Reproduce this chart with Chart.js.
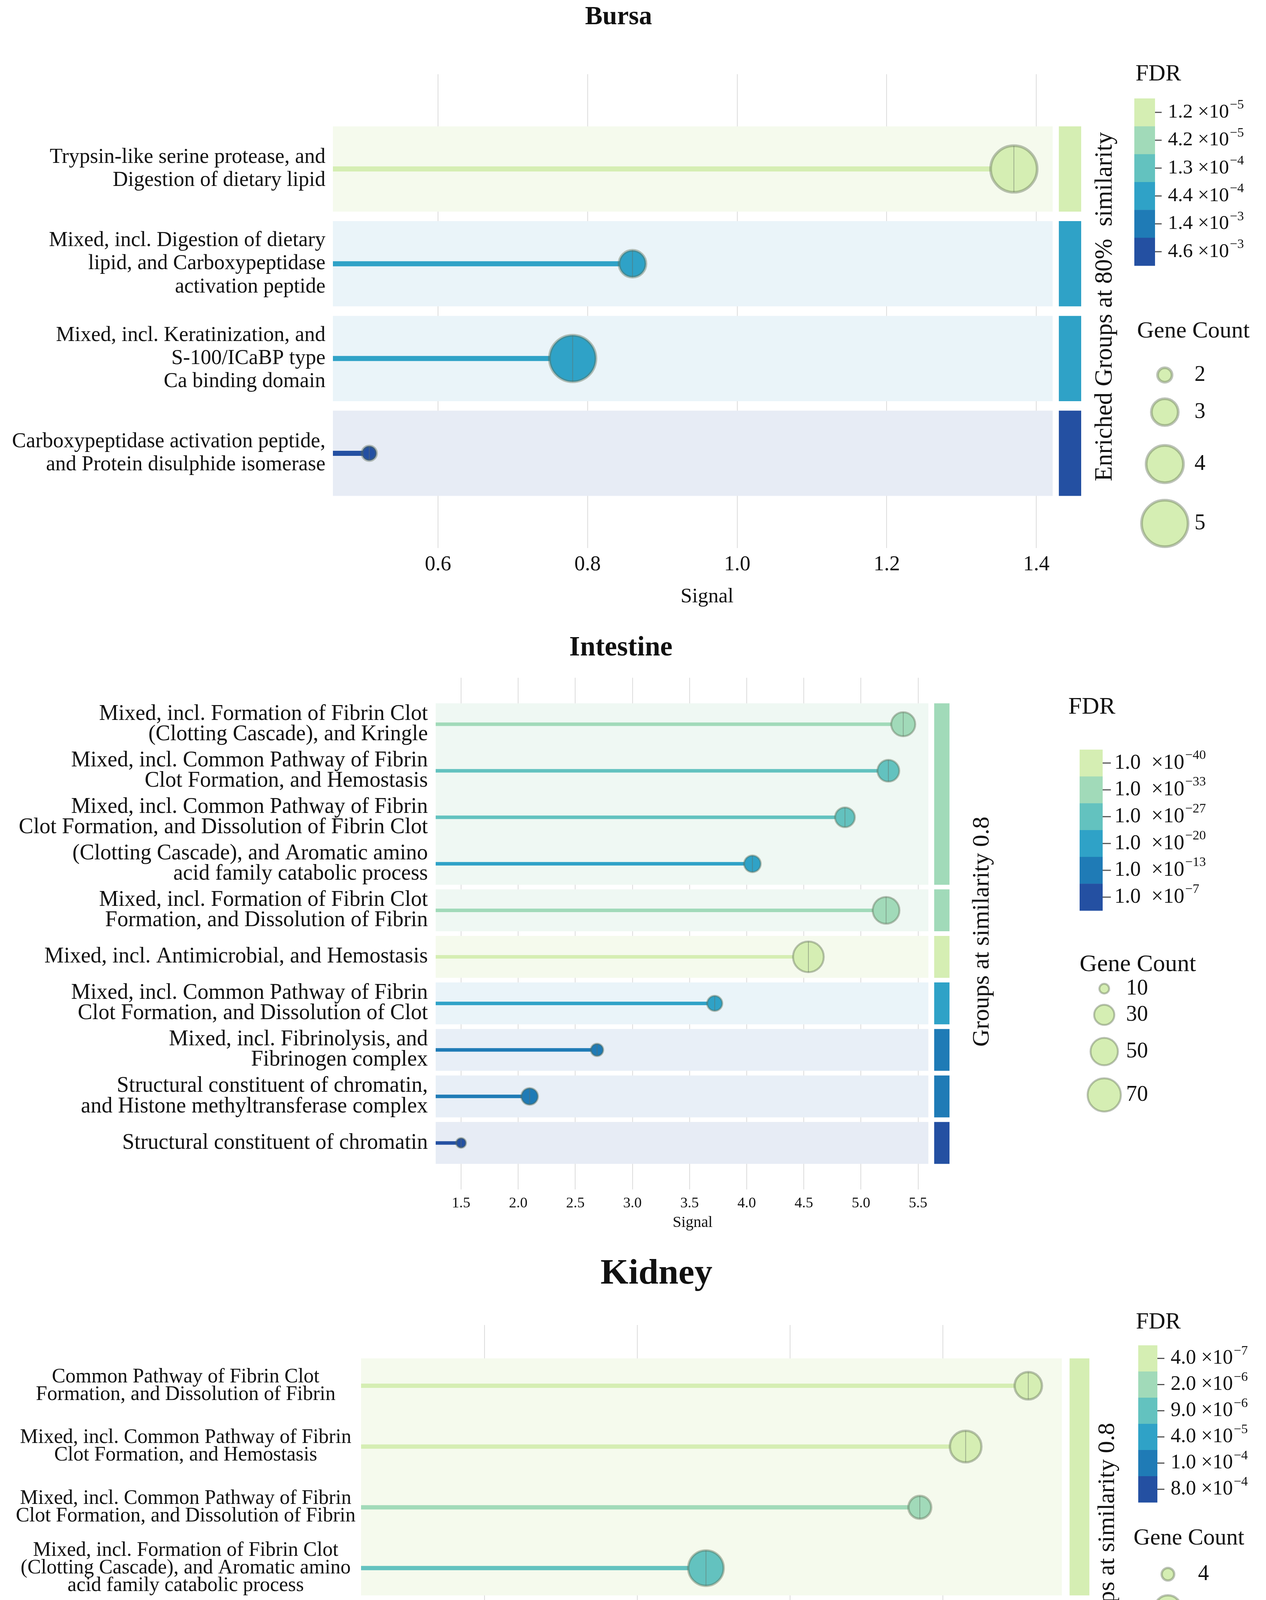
<!DOCTYPE html>
<html>
<head>
<meta charset="utf-8">
<script src="https://cdn.jsdelivr.net/npm/chart.js@4.4.1/dist/chart.umd.min.js"></script>
<style>
  html, body { margin: 0; padding: 0; background: #fff; }
  #page { position: relative; width: 3240px; height: 4631px; }
  canvas { position: absolute; left: 0; }
</style>
</head>
<body>
<div id="page">
  <canvas id="bursa" width="3240" height="1570" style="top:0px"></canvas>
  <canvas id="intestine" width="3240" height="1590" style="top:1570px"></canvas>
  <canvas id="kidney" width="3240" height="1461" style="top:3170px"></canvas>
</div>
<script>
/* global Chart */

// ---- Bursa ----
const bursaLabels = [
  ['Trypsin-like serine protease, and', 'Digestion of dietary lipid'],
  ['Mixed, incl. Digestion of dietary', 'lipid, and Carboxypeptidase', 'activation peptide'],
  ['Mixed, incl. Keratinization, and', 'S-100/ICaBP type', 'Ca binding domain'],
  ['Carboxypeptidase activation peptide,', 'and Protein disulphide isomerase']
]
const bursaSignal = [1.37, 0.86, 0.78, 0.508]
const bursaFdr = [1.2e-5, 4.4e-4, 4.4e-4, 4.6e-3]
const bursaGeneCount = [5, 3, 5, 2]
const bursaGroup = [0, 1, 2, 3]
const bursaSignalTicks = [0.6, 0.8, 1.0, 1.2, 1.4]
const bursaFdrTicks = [1.2e-5, 4.2e-5, 1.3e-4, 4.4e-4, 1.4e-3, 4.6e-3]
const bursaCountTicks = [2, 3, 4, 5]

// ---- Intestine ----
const intestineLabels = [
  ['Mixed, incl. Formation of Fibrin Clot', '(Clotting Cascade), and Kringle'],
  ['Mixed, incl. Common Pathway of Fibrin', 'Clot Formation, and Hemostasis'],
  ['Mixed, incl. Common Pathway of Fibrin', 'Clot Formation, and Dissolution of Fibrin Clot'],
  ['(Clotting Cascade), and Aromatic amino', 'acid family catabolic process'],
  ['Mixed, incl. Formation of Fibrin Clot', 'Formation, and Dissolution of Fibrin'],
  ['Mixed, incl. Antimicrobial, and Hemostasis'],
  ['Mixed, incl. Common Pathway of Fibrin', 'Clot Formation, and Dissolution of Clot'],
  ['Mixed, incl. Fibrinolysis, and', 'Fibrinogen complex'],
  ['Structural constituent of chromatin,', 'and Histone methyltransferase complex'],
  ['Structural constituent of chromatin']
]
const intestineSignal = [5.37, 5.24, 4.86, 4.05, 5.22, 4.54, 3.72, 2.69, 2.10, 1.50]
const intestineFdr = [1e-33, 1e-27, 1e-27, 1e-20, 1e-33, 1e-40, 1e-20, 1e-13, 1e-13, 1e-7]
const intestineGeneCount = [40, 34, 29, 22, 48, 61, 19, 14, 22, 10]
const intestineGroup = [0, 0, 0, 0, 1, 2, 3, 4, 5, 6]
const intestineSignalTicks = [1.5, 2.0, 2.5, 3.0, 3.5, 4.0, 4.5, 5.0, 5.5]
const intestineFdrTicks = [1e-40, 1e-33, 1e-27, 1e-20, 1e-13, 1e-7]
const intestineCountTicks = [10, 30, 50, 70]

// ---- Kidney ----
const kidneyLabels = [
  ['Common Pathway of Fibrin Clot', 'Formation, and Dissolution of Fibrin'],
  ['Mixed, incl. Common Pathway of Fibrin', 'Clot Formation, and Hemostasis'],
  ['Mixed, incl. Common Pathway of Fibrin', 'Clot Formation, and Dissolution of Fibrin'],
  ['Mixed, incl. Formation of Fibrin Clot', '(Clotting Cascade), and Aromatic amino', 'acid family catabolic process'],
  ['Mixed, incl. Formation of Fibrin Clot', '(Clotting Cascade), and Aromatic amino', 'acid family metabolic process'],
  ['Mixed, incl. Fibrinolysis, and', 'Fibrinogen complex']
]
const kidneySignal = [1.712, 1.63, 1.57, 1.29, 1.45, 0.888]
const kidneyFdr = [4e-7, 4e-7, 2e-6, 9e-6, 4e-7, 8e-4]
const kidneyGeneCount = [7, 8, 6, 9, 11, 4]
const kidneyGroup = [0, 0, 0, 0, 1, 2]
const kidneySignalTicks = [1.0, 1.2, 1.4, 1.6]
const kidneyFdrTicks = [4e-7, 2e-6, 9e-6, 4e-5, 1e-4, 8e-4]
const kidneyCountTicks = [4, 7, 9, 12]

const SERIF = "'Liberation Serif', 'Times New Roman', serif"
const palette = ['#d5eeb3', '#a1dab9', '#63c2bf', '#2fa2c7', '#1f7bb6', '#2450a2']
const bandPalette = ['#f5faed', '#eff8f3', '#ebf6f6', '#eaf4f9', '#e8eff7', '#e7ecf5']
const RING = 'rgba(90,105,80,0.4)'

function fdrBin (v, ticks) {
  let best = 0
  ticks.forEach((t, i) => {
    if (Math.abs(Math.log10(v) - Math.log10(t)) < Math.abs(Math.log10(v) - Math.log10(ticks[best]))) best = i
  })
  return best
}

function radiusFor (c, ticks, L) {
  const a = Math.sqrt(ticks[0])
  const b = Math.sqrt(ticks[ticks.length - 1])
  return L.rMin + (L.rMax - L.rMin) * (Math.sqrt(c) - a) / (b - a)
}

// title, group caption and the two legends (colour bar + bubble sizes)
const decor = {
  id: 'decor',
  afterDraw (chart, args, o) {
    const ctx = chart.ctx
    ctx.save()
    ctx.fillStyle = '#111'
    ctx.textBaseline = 'middle'

    ctx.textAlign = 'center'
    ctx.font = `bold ${o.titleSize}px ${SERIF}`
    ctx.fillText(o.title, o.titleX, o.titleY)

    ctx.save()
    ctx.translate(o.groupX, o.groupY)
    ctx.rotate(-Math.PI / 2)
    ctx.font = `${o.groupSize}px ${SERIF}`
    ctx.fillText(o.groupText, 0, 0)
    ctx.restore()

    ctx.textAlign = 'left'
    ctx.font = `${o.legendTitleSize}px ${SERIF}`
    ctx.fillText('FDR', o.fdrX, o.fdrY)

    const binH = (o.barBottom - o.barTop) / o.fdrTicks.length
    o.fdrTicks.forEach((t, i) => {
      ctx.fillStyle = palette[i]
      ctx.fillRect(o.barX, o.barTop + i * binH, o.barW, binH + 0.5)
      const cy = o.barTop + (i + 0.5) * binH
      ctx.strokeStyle = '#555'
      ctx.lineWidth = 3
      ctx.beginPath()
      ctx.moveTo(o.barX + o.barW, cy)
      ctx.lineTo(o.barX + o.barW + o.tickLen, cy)
      ctx.stroke()
      const exp = Math.floor(Math.log10(t) + 1e-6)
      const mant = t / Math.pow(10, exp)
      const main = mant.toFixed(1) + o.sep + '\u00d710'
      ctx.fillStyle = '#111'
      ctx.font = `${o.labelSize}px ${SERIF}`
      ctx.fillText(main, o.labelX, cy)
      const w = ctx.measureText(main).width
      ctx.font = `${o.supSize}px ${SERIF}`
      ctx.fillText('\u2212' + Math.abs(exp), o.labelX + w + 2, cy - o.labelSize * 0.36)
    })

    ctx.font = `${o.legendTitleSize}px ${SERIF}`
    ctx.fillText('Gene Count', o.countX, o.countY)
    o.countTicks.forEach((c, i) => {
      const r = radiusFor(c, o.countTicks, o.L)
      ctx.beginPath()
      ctx.arc(o.circleX, o.circleYs[i], r, 0, Math.PI * 2)
      ctx.fillStyle = palette[0]
      ctx.fill()
      ctx.lineWidth = o.L.ringWidth
      ctx.strokeStyle = RING
      ctx.stroke()
      ctx.fillStyle = '#111'
      ctx.font = `${o.countLabelSize}px ${SERIF}`
      ctx.fillText(String(c), o.countLabelX, o.circleYs[i])
    })
    ctx.restore()
  }
}

function buildPanel (canvasId, d, L, deco) {
  const n = d.labels.length
  const bins = d.fdr.map(v => fdrBin(v, d.fdrTicks))
  const datasets = []

  // background band per group + the group colour bar on the right
  const groupIds = [...new Set(d.group)]
  groupIds.forEach(g => {
    const rows = d.group.map((x, i) => (x === g ? i : -1)).filter(i => i >= 0)
    const lo = Math.min(...rows) - 0.45
    const hi = Math.max(...rows) + 0.45
    const bin = Math.min(...rows.map(i => bins[i]))
    datasets.push({
      type: 'line', data: [{ x: L.xMin, y: lo }, { x: L.bandEnd, y: lo }],
      fill: { value: hi }, backgroundColor: bandPalette[bin],
      borderColor: 'transparent', borderWidth: 0, pointRadius: 0, order: 6
    })
    datasets.push({
      type: 'line', data: [{ x: L.barStart, y: lo }, { x: L.barEnd, y: lo }],
      fill: { value: hi }, backgroundColor: palette[bin],
      borderColor: 'transparent', borderWidth: 0, pointRadius: 0, order: 5
    })
  })

  d.signal.forEach((v, i) => {
    datasets.push({
      type: 'line', data: [{ x: L.xMin, y: i }, { x: v, y: i }],
      borderColor: palette[bins[i]], borderWidth: L.stemWidth,
      pointRadius: 0, fill: false, order: 4
    })
  })

  const radii = d.count.map(c => radiusFor(c, d.countTicks, L))
  datasets.push({
    type: 'bubble',
    data: d.signal.map((v, i) => ({ x: v, y: i, r: radii[i] })),
    backgroundColor: bins.map(b => palette[b]),
    borderColor: RING, borderWidth: L.ringWidth, order: 3
  })
  datasets.push({
    type: 'scatter',
    data: d.signal.map((v, i) => ({ x: v, y: i })),
    pointStyle: 'line', rotation: 90, pointRadius: radii,
    borderColor: 'rgba(100,110,100,0.5)', borderWidth: 2, showLine: false, order: 2
  })

  return new Chart(document.getElementById(canvasId), {
    type: 'line',
    data: { datasets },
    plugins: [decor],
    options: {
      responsive: false,
      devicePixelRatio: 1,
      animation: false,
      events: [],
      layout: { padding: { left: 0, top: L.plotTop, right: 3240 - L.plotRight, bottom: 0 } },
      plugins: {
        legend: { display: false },
        tooltip: { enabled: false },
        decor: Object.assign({ L, fdrTicks: d.fdrTicks, countTicks: d.countTicks }, deco)
      },
      scales: {
        x: {
          type: 'linear',
          min: L.xMin,
          max: L.xMax,
          afterBuildTicks: s => { s.ticks = d.signalTicks.map(v => ({ value: v })) },
          afterFit: s => { s.height = L.xAxisHeight },
          ticks: {
            callback: v => Number(v).toFixed(1),
            font: { family: SERIF, size: L.xTickSize },
            color: '#111',
            padding: L.xTickPad,
            autoSkip: false,
            maxRotation: 0
          },
          grid: { color: '#dcdcdc', lineWidth: 2, drawTicks: false },
          border: { display: false },
          title: {
            display: true,
            text: 'Signal',
            font: { family: SERIF, size: L.xTitleSize },
            color: '#111',
            padding: { top: 0, bottom: L.xTitlePad }
          }
        },
        y: {
          type: 'linear',
          reverse: true,
          min: -1,
          max: n,
          afterBuildTicks: s => { s.ticks = d.labels.map((_, i) => ({ value: i })) },
          afterFit: s => { s.width = L.plotLeft },
          ticks: {
            callback: v => d.labels[v],
            font: { family: SERIF, size: L.yTickSize, lineHeight: L.yLineHeight },
            color: '#111',
            padding: L.yTickPad,
            crossAlign: L.crossAlign,
            autoSkip: false
          },
          grid: { display: false },
          border: { display: false }
        }
      }
    }
  })
}

buildPanel('bursa', {
  labels: bursaLabels, signal: bursaSignal, fdr: bursaFdr, count: bursaGeneCount,
  group: bursaGroup, signalTicks: bursaSignalTicks, fdrTicks: bursaFdrTicks, countTicks: bursaCountTicks
}, {
  xMin: 0.4594, xMax: 1.46, bandEnd: 1.422, barStart: 1.430, barEnd: 1.46,
  plotLeft: 852, plotRight: 2767, plotTop: 190, xAxisHeight: 167,
  xTickSize: 54, xTickPad: 10, xTitleSize: 53, xTitlePad: 10,
  yTickSize: 54, yLineHeight: 1.1, yTickPad: 11, crossAlign: 'near',
  stemWidth: 13, ringWidth: 7, rMin: 18.5, rMax: 59.5
}, {
  title: 'Bursa', titleX: 1583, titleY: 45, titleSize: 67,
  groupText: 'Enriched Groups at 80%  similarity', groupX: 2828, groupY: 785, groupSize: 63,
  legendTitleSize: 60, fdrX: 2906, fdrY: 190,
  barX: 2903, barW: 53, barTop: 252, barBottom: 680, tickLen: 17,
  labelX: 2989, labelSize: 51, supSize: 34, sep: ' ',
  countX: 2910, countY: 848, circleX: 2981, circleYs: [960, 1055, 1188, 1340],
  countLabelX: 3057, countLabelSize: 56
})

buildPanel('intestine', {
  labels: intestineLabels, signal: intestineSignal, fdr: intestineFdr, count: intestineGeneCount,
  group: intestineGroup, signalTicks: intestineSignalTicks, fdrTicks: intestineFdrTicks, countTicks: intestineCountTicks
}, {
  xMin: 1.2776, xMax: 5.775, bandEnd: 5.59, barStart: 5.64, barEnd: 5.775,
  plotLeft: 1115, plotRight: 2430, plotTop: 165, xAxisHeight: 115,
  xTickSize: 38, xTickPad: 13, xTitleSize: 40, xTitlePad: 6,
  yTickSize: 56, yLineHeight: 0.93, yTickPad: 12, crossAlign: 'near',
  stemWidth: 9, ringWidth: 5, rMin: 12.5, rMax: 42.5
}, {
  title: 'Intestine', titleX: 1589, titleY: 90, titleSize: 71,
  groupText: 'Groups at similarity 0.8', groupX: 2514, groupY: 815, groupSize: 62,
  legendTitleSize: 62, fdrX: 2734, fdrY: 241,
  barX: 2763, barW: 59, barTop: 349, barBottom: 761, tickLen: 21,
  labelX: 2852, labelSize: 54, supSize: 34, sep: '  ',
  countX: 2763, countY: 900, circleX: 2826, circleYs: [961, 1028, 1122, 1233],
  countLabelX: 2882, countLabelSize: 56
})

buildPanel('kidney', {
  labels: kidneyLabels, signal: kidneySignal, fdr: kidneyFdr, count: kidneyGeneCount,
  group: kidneyGroup, signalTicks: kidneySignalTicks, fdrTicks: kidneyFdrTicks, countTicks: kidneyCountTicks
}, {
  xMin: 0.8384, xMax: 1.792, bandEnd: 1.756, barStart: 1.766, barEnd: 1.792,
  plotLeft: 924, plotRight: 2788, plotTop: 222, xAxisHeight: 150,
  xTickSize: 47, xTickPad: 9, xTitleSize: 50, xTitlePad: 27,
  yTickSize: 52, yLineHeight: 0.86, yTickPad: 6, crossAlign: 'center',
  stemWidth: 11, ringWidth: 6, rMin: 16, rMax: 59
}, {
  title: 'Kidney', titleX: 1680, titleY: 92, titleSize: 92,
  groupText: 'Groups at similarity 0.8', groupX: 2835, groupY: 767, groupSize: 62,
  legendTitleSize: 59, fdrX: 2907, fdrY: 215,
  barX: 2913, barW: 49, barTop: 274, barBottom: 676, tickLen: 18,
  labelX: 2996, labelSize: 52, supSize: 34, sep: ' ',
  countX: 2901, countY: 768, circleX: 2989, circleYs: [860, 949, 1072, 1210],
  countLabelX: 3066, countLabelSize: 56
})
</script>
</body>
</html>
